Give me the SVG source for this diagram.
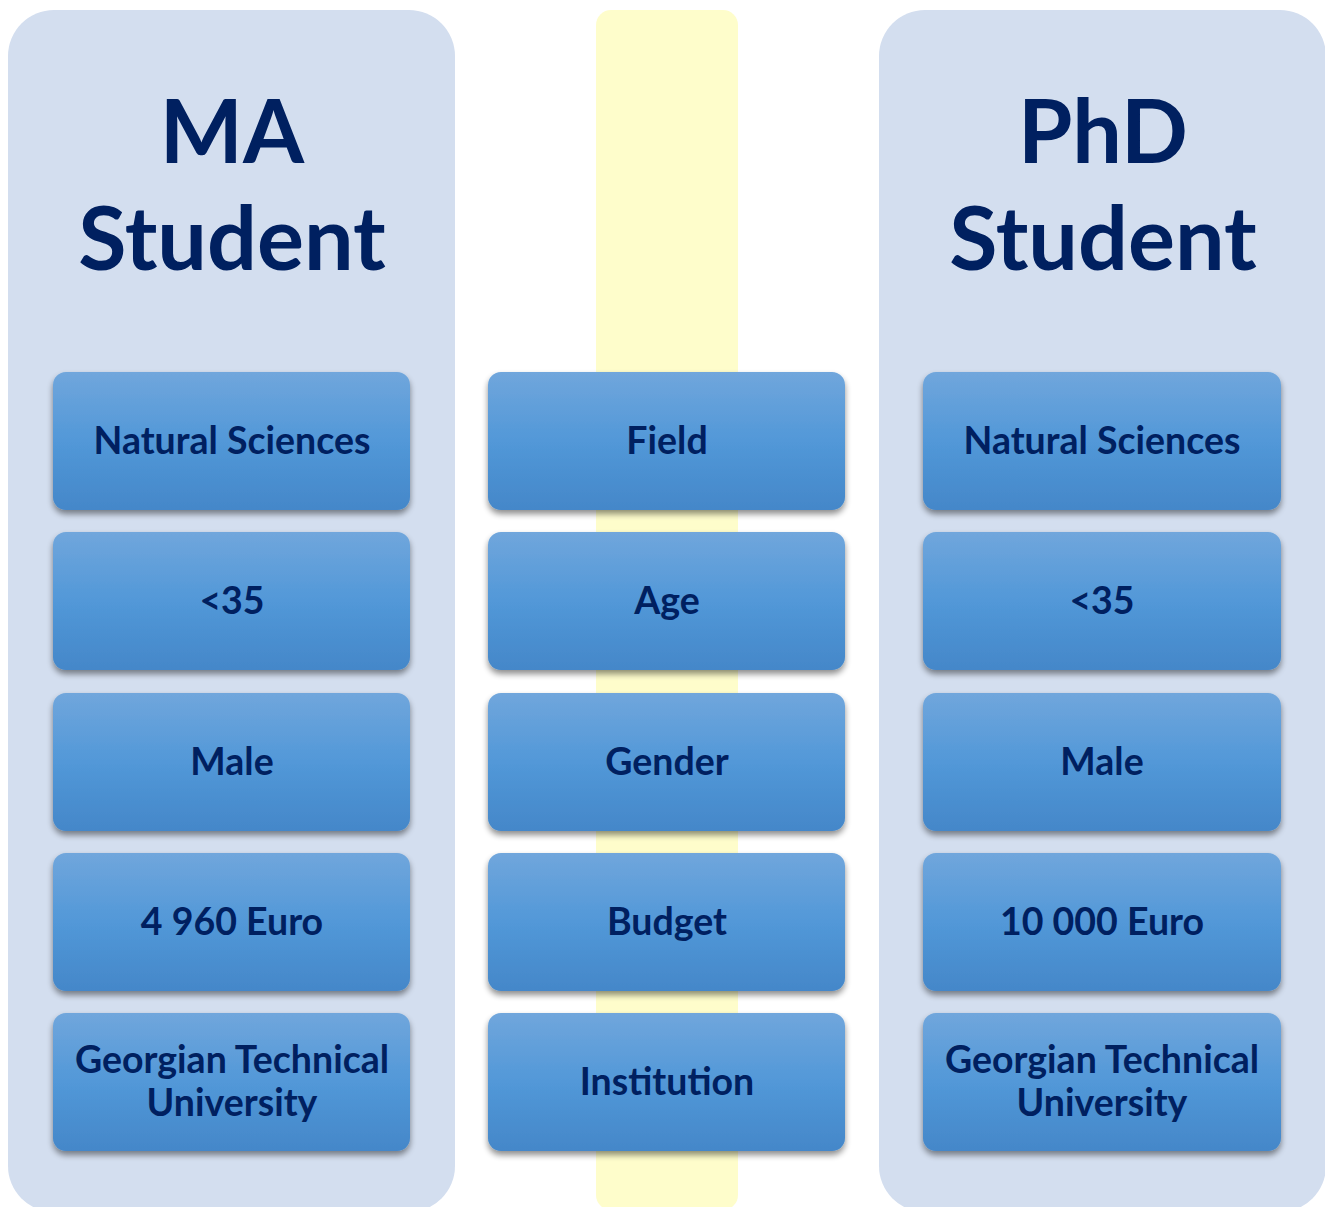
<svg xmlns="http://www.w3.org/2000/svg" width="1325" height="1207" viewBox="0 0 1325 1207">
<defs>
<linearGradient id="bg" x1="0" y1="0" x2="0" y2="1">
<stop offset="0" stop-color="#70A6DC"/>
<stop offset="0.5" stop-color="#5298D8"/>
<stop offset="1" stop-color="#4487C9"/>
</linearGradient>
<filter id="sh" x="-10%" y="-10%" width="120%" height="130%">
<feGaussianBlur in="SourceAlpha" stdDeviation="3"/>
<feOffset dy="4" result="b"/>
<feComponentTransfer><feFuncA type="linear" slope="0.45"/></feComponentTransfer>
<feMerge><feMergeNode/><feMergeNode in="SourceGraphic"/></feMerge>
</filter>
</defs>
<style>
.panel{fill:#D3DEEF}
.box{fill:url(#bg);filter:url(#sh)}
.t{font-family:Lato,"Open Sans","Liberation Sans",sans-serif;font-weight:bold;fill:#002060;text-anchor:middle}
.lbl{font-size:37.5px}
.ttl{font-size:88px}
</style>
<rect width="1325" height="1207" fill="#FFFFFF"/>
<g id="panel-ma"><rect class="panel" x="8" y="10" width="447" height="1202" rx="46"/>
<text class="t ttl" x="232" y="163">MA</text><text class="t ttl" x="232" y="270">Student</text></g>
<g id="panel-phd"><rect class="panel" x="879" y="10" width="447" height="1202" rx="46"/>
<text class="t ttl" x="1103" y="163">PhD</text><text class="t ttl" x="1103" y="270">Student</text></g>
<g id="panel-mid"><rect x="596" y="10" width="142" height="1200" rx="15" fill="#FEFDCB"/></g>
<g id="connectors"></g>
<g id="ma-field"><rect class="box" x="53" y="372" width="357" height="138" rx="13"/><text class="t lbl" x="232" y="454">Natural Sciences</text></g>
<g id="ma-age"><rect class="box" x="53" y="532" width="357" height="138" rx="13"/><text class="t lbl" x="232" y="614">&lt;35</text></g>
<g id="ma-gender"><rect class="box" x="53" y="693" width="357" height="138" rx="13"/><text class="t lbl" x="232" y="775">Male</text></g>
<g id="ma-budget"><rect class="box" x="53" y="853" width="357" height="138" rx="13"/><text class="t lbl" x="232" y="935">4 960 Euro</text></g>
<g id="ma-inst"><rect class="box" x="53" y="1013" width="357" height="138" rx="13"/><text class="t lbl" x="232" y="1073">Georgian Technical</text><text class="t lbl" x="232" y="1116">University</text></g>
<g id="mid-field"><rect class="box" x="488" y="372" width="357" height="138" rx="13"/><text class="t lbl" x="667" y="454">Field</text></g>
<g id="mid-age"><rect class="box" x="488" y="532" width="357" height="138" rx="13"/><text class="t lbl" x="667" y="614">Age</text></g>
<g id="mid-gender"><rect class="box" x="488" y="693" width="357" height="138" rx="13"/><text class="t lbl" x="667" y="775">Gender</text></g>
<g id="mid-budget"><rect class="box" x="488" y="853" width="357" height="138" rx="13"/><text class="t lbl" x="667" y="935">Budget</text></g>
<g id="mid-inst"><rect class="box" x="488" y="1013" width="357" height="138" rx="13"/><text class="t lbl" x="667" y="1095">Institution</text></g>
<g id="phd-field"><rect class="box" x="923" y="372" width="358" height="138" rx="13"/><text class="t lbl" x="1102" y="454">Natural Sciences</text></g>
<g id="phd-age"><rect class="box" x="923" y="532" width="358" height="138" rx="13"/><text class="t lbl" x="1102" y="614">&lt;35</text></g>
<g id="phd-gender"><rect class="box" x="923" y="693" width="358" height="138" rx="13"/><text class="t lbl" x="1102" y="775">Male</text></g>
<g id="phd-budget"><rect class="box" x="923" y="853" width="358" height="138" rx="13"/><text class="t lbl" x="1102" y="935">10 000 Euro</text></g>
<g id="phd-inst"><rect class="box" x="923" y="1013" width="358" height="138" rx="13"/><text class="t lbl" x="1102" y="1073">Georgian Technical</text><text class="t lbl" x="1102" y="1116">University</text></g>
</svg>
